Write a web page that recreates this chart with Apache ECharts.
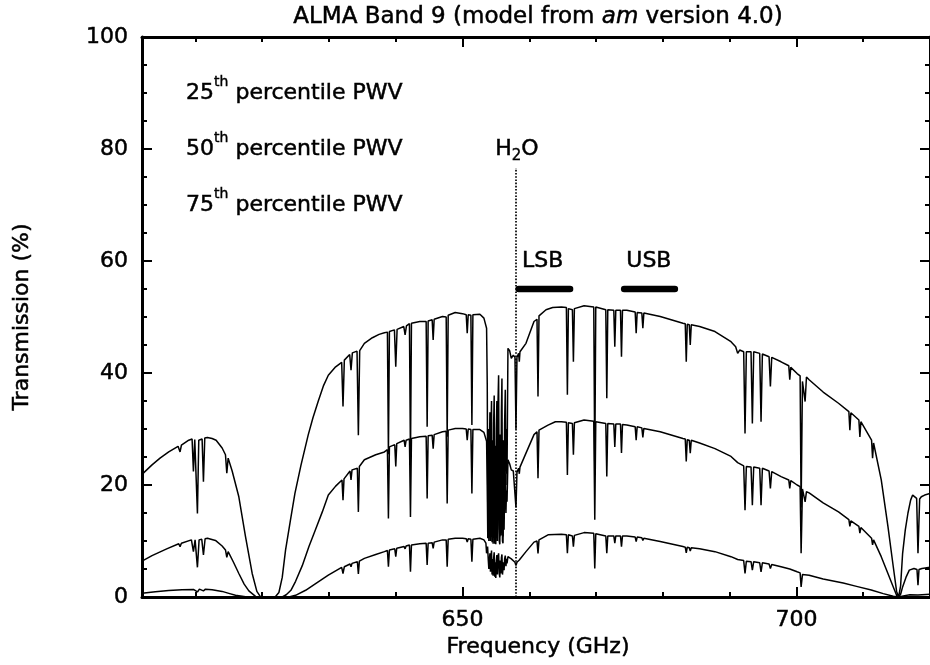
<!DOCTYPE html>
<html><head><meta charset="utf-8">
<script src="https://cdn.jsdelivr.net/npm/echarts@6/dist/echarts.min.js"></script>
<style>html,body{margin:0;padding:0;background:#fff}#c{width:930px;height:665px}</style>
</head><body><div id="c"></div>
<script>
// ---- axis ranges / ticks ----
const xMin = 602, xMax = 720;
const yMin = 0, yMax = 100, yStep = 20;
const xMajorTicks = [650, 700];
const xMinorTicks = [610, 620, 630, 640, 660, 670, 680, 690, 710];

// ---- 25th percentile PWV (frequency GHz, transmission %) ----
const p25 = [
[602.0,21.9],[603.5,23.6],[604.7,24.8],[606.0,25.9],[607.4,26.9],[607.7,25.9],[607.9,27.1],[609.0,28.0],[609.5,28.2],[609.7,22.4],[609.9,28.1],[610.15,28.0],[610.3,14.9],[610.5,28.0],[611.0,28.2],[611.2,20.6],[611.4,28.4],[611.8,28.5],[612.5,28.3],[613.1,28.0],[614.0,26.6],[614.5,25.4],[614.7,22.1],[614.9,24.8],[615.5,22.5],[616.5,17.9],[617.5,10.8],[618.5,4.2],[619.2,1.0],[619.7,0.1],[620.0,0],[621.5,0],[622.0,0.1],[622.5,0.8],[623.0,3.5],[623.5,8.4],[624.2,13.5],[624.9,18.5],[625.8,23.5],[626.9,29.0],[627.6,32.0],[628.4,35.0],[629.2,37.8],[629.9,39.6],[630.9,41.0],[631.9,41.9],[632.1,34.0],[632.3,42.3],[633.1,43.3],[633.3,40.5],[633.5,43.6],[634.2,43.9],[634.4,28.9],[634.6,44.0],[635.3,45.3],[636.5,46.3],[637.5,46.9],[638.3,47.2],[638.75,47.3],[638.9,25.5],[639.05,47.4],[639.8,47.7],[640.0,41.1],[640.2,47.8],[641.2,48.3],[641.4,46.8],[641.6,48.4],[642.05,48.8],[642.2,24.7],[642.35,48.9],[643.6,49.2],[644.55,49.2],[644.7,30.4],[644.85,49.3],[645.45,49.5],[645.6,45.9],[645.75,49.6],[647.0,50.1],[647.55,50.0],[647.7,28.6],[647.85,50.3],[648.9,50.8],[650.0,50.6],[650.55,50.4],[650.7,47.1],[650.85,50.4],[651.25,50.3],[651.4,30.7],[651.55,50.4],[652.6,50.5],[653.2,49.8],[653.6,48.0],
[653.7,38],[653.78,14],[653.86,30],[653.94,11.5],[654.02,26],[654.1,33],[654.18,13],[654.26,30],[654.34,35],[654.42,12],[654.5,28],[654.58,11],[654.66,31],[654.74,36],[654.82,11],[654.9,27],[654.98,10.8],[655.06,30],[655.14,35],[655.22,12],[655.3,34],[655.4,39.6],[655.5,13],[655.58,10.8],[655.66,29],[655.74,14],[655.82,33],[655.9,39.0],[655.98,12],[656.06,10.8],[656.14,28],[656.22,15],[656.3,31],[656.4,37],[656.5,20],[656.58,30],[656.66,22],
[656.8,44.4],[657.05,44.0],[657.3,42.6],[657.6,43.2],[657.85,42.8],[658.0,30.0],[658.15,42.8],[658.4,43.5],[658.5,42.0],[658.6,43.8],[659.5,45.3],[660.7,49.2],[661.15,49.6],[661.3,35.8],[661.45,50.2],[662.5,51.3],[663.5,51.7],[664.8,51.8],[665.55,51.7],[665.7,36.1],[665.85,51.5],[666.45,51.3],[666.6,42.0],[666.75,51.5],[668.2,52.0],[669.65,51.8],[669.8,23.0],[669.95,51.8],[671.45,51.3],[671.6,35.5],[671.75,51.3],[672.65,51.2],[672.8,44.7],[672.95,51.2],[673.65,51.2],[673.8,42.9],[673.95,51.2],[674.6,51.2],[675.85,50.9],[676.0,47.1],[676.15,50.8],[676.85,50.7],[677.0,48.0],[677.15,50.7],[679.6,50.1],[683.0,48.9],[683.35,48.8],[683.5,42.0],[683.65,48.7],[683.95,48.6],[684.1,45.0],[684.25,48.6],[685.5,48.3],[687.8,47.4],[690.2,45.6],[690.9,44.7],[691.2,43.5],[691.5,44.1],[692.1,43.8],[692.3,29.2],[692.5,43.8],[693.2,43.8],[693.4,31.0],[693.6,43.8],[694.5,43.5],[694.7,31.3],[694.9,43.4],[695.9,42.9],[696.1,37.6],[696.3,42.8],[697.7,42.0],[698.85,41.3],[699.0,38.8],[699.15,41.0],[700.1,39.9],[700.55,39.5],[700.7,16.0],[700.9,38.5],[701.1,38.8],[701.3,34.9],[701.5,39.3],[701.9,38.8],[704.0,36.6],[706.3,34.6],[707.85,33.1],[708.0,29.8],[708.15,32.9],[709.35,31.6],[709.5,28.6],[709.65,31.3],[711.25,28.0],[711.4,24.8],[711.55,27.5],[712.7,20.9],[713.7,12.6],[714.5,5.4],[715.0,1.0],[715.3,0],[715.6,2.0],[715.9,7.8],[716.3,12.0],[716.7,15.0],[717.1,17.3],[717.4,18.2],[718.0,17.6],[718.2,7.8],[718.45,17.5],[718.7,17.9],[719.2,18.2],[720.0,18.5]
];

// ---- 50th percentile PWV ----
const p50 = [
[602.0,6.4],[603.5,7.4],[605.7,8.6],[607.5,9.5],[607.7,9.0],[607.9,9.6],[609.4,10.2],[609.7,8.1],[609.95,10.2],[610.3,5.3],[610.55,10.2],[610.95,10.3],[611.2,7.5],[611.45,10.4],[611.8,10.5],[613.0,10.1],[614.0,9.1],[614.5,8.4],[614.7,7.1],[614.9,8.1],[615.7,6.2],[616.5,4.2],[617.3,2.3],[618.0,1.1],[619.0,0.1],[619.5,0],[623.0,0],[623.6,0.4],[624.3,1.2],[625.0,2.8],[626.0,5.6],[627.0,9.0],[627.9,11.8],[629.0,15.2],[629.9,18.2],[631.0,19.8],[631.95,20.9],[632.1,17.3],[632.25,21.1],[633.15,22.5],[633.3,20.9],[633.45,22.7],[634.25,23.0],[634.4,15.2],[634.55,23.3],[635.3,24.5],[637.0,25.4],[638.3,25.9],[638.75,26.3],[638.9,14.0],[639.05,26.8],[639.85,27.2],[640.0,23.3],[640.15,27.4],[641.25,28.0],[641.4,26.8],[641.55,28.0],[642.05,28.2],[642.2,14.3],[642.35,28.3],[643.6,28.6],[644.55,28.7],[644.7,17.6],[644.85,28.8],[645.45,28.9],[645.6,26.5],[645.75,29.0],[647.0,29.5],[647.55,29.6],[647.7,16.7],[647.85,29.8],[648.9,30.1],[650.0,30.1],[650.55,30.0],[650.7,28.0],[650.85,30.0],[651.25,29.9],[651.4,18.5],[651.55,29.9],[652.6,29.9],[653.2,29.4],[653.6,27.8],
[653.7,20],[653.78,10.5],[653.86,18],[653.94,10],[654.02,16],[654.1,21],[654.18,10],[654.26,18],[654.34,22],[654.42,9.8],[654.5,17],[654.58,9.5],[654.66,19],[654.74,23],[654.82,9.5],[654.9,16],[654.98,9.4],[655.06,19],[655.14,22],[655.22,10],[655.3,21],[655.4,24.5],[655.5,10],[655.58,9.4],[655.66,18],[655.74,11],[655.82,20],[655.9,23.5],[655.98,10],[656.06,9.6],[656.14,17],[656.22,12],[656.3,19],[656.4,22],[656.5,15],[656.58,19],[656.66,17],
[656.8,24.5],[657.05,23.8],[657.3,22.7],[657.6,22.5],[657.85,22.2],[658.0,16.0],[658.15,22.3],[658.4,23.0],[658.5,22.0],[658.6,23.2],[659.5,25.7],[660.7,29.0],[661.15,29.5],[661.3,21.2],[661.45,29.8],[662.8,30.7],[663.9,31.3],[664.8,31.3],[665.55,31.2],[665.7,21.8],[665.85,31.1],[666.45,31.0],[666.6,25.4],[666.75,31.1],[668.2,31.6],[669.65,31.4],[669.8,13.8],[669.95,31.3],[671.45,31.0],[671.6,21.5],[671.75,31.0],[672.65,30.9],[672.8,26.8],[672.95,30.9],[673.65,30.9],[673.8,25.7],[673.95,30.8],[674.6,30.7],[675.85,30.4],[676.0,28.0],[676.15,30.4],[676.85,30.2],[677.0,28.5],[677.15,30.1],[679.6,29.5],[683.0,28.3],[683.35,28.2],[683.5,24.2],[683.65,28.1],[683.95,28.0],[684.1,25.7],[684.25,28.0],[685.5,27.5],[687.8,26.5],[690.2,25.1],[691.2,24.0],[692.1,23.4],[692.3,15.5],[692.5,23.3],[693.2,23.2],[693.4,16.4],[693.6,23.2],[694.5,23.0],[694.7,16.4],[694.9,23.0],[695.9,22.5],[696.1,19.4],[696.3,22.4],[697.7,21.5],[698.85,20.9],[699.0,19.4],[699.15,20.8],[700.1,20.0],[700.55,19.7],[700.7,7.8],[700.9,19.3],[701.1,19.0],[701.3,17.0],[701.5,18.8],[701.9,18.6],[704.0,16.8],[706.3,15.2],[707.85,13.8],[708.0,12.6],[708.15,13.6],[709.35,12.6],[709.5,11.4],[709.65,12.4],[711.25,10.5],[711.4,9.3],[711.55,10.2],[712.7,7.2],[713.7,4.2],[714.5,1.8],[715.0,0.3],[715.3,0],[715.6,0.5],[715.9,1.8],[716.4,3.5],[716.9,4.8],[717.6,5.1],[718.05,4.9],[718.2,2.1],[718.35,4.9],[718.8,5.1],[720.0,5.3]
];

// ---- 75th percentile PWV ----
const p75 = [
[602.0,0.65],[604.0,0.95],[606.0,1.15],[608.0,1.3],[609.7,1.35],[610.3,0.9],[610.6,1.4],[611.2,1.1],[611.5,1.4],[612.5,1.3],[614.0,1.0],[615.0,0.65],[616.0,0.3],[617.5,0.05],[618.0,0],[624.0,0],[625.0,0.3],[626.5,1.2],[628.0,2.4],[629.9,3.9],[631.9,5.3],[632.1,4.2],[632.3,5.4],[633.15,5.9],[633.3,5.4],[633.45,6.0],[634.25,6.3],[634.4,4.1],[634.55,6.4],[635.3,6.9],[637.0,7.6],[638.3,8.1],[638.75,8.3],[638.9,5.4],[639.05,8.4],[639.85,8.6],[640.0,7.2],[640.15,8.7],[641.25,9.0],[641.4,8.6],[641.55,9.1],[642.05,9.3],[642.2,4.5],[642.35,9.3],[643.6,9.5],[644.55,9.6],[644.7,5.7],[644.85,9.6],[645.45,9.7],[645.6,8.7],[645.75,9.8],[647.0,10.2],[647.55,10.2],[647.7,5.4],[647.85,10.3],[648.9,10.5],[650.0,10.5],[650.55,10.4],[650.7,9.8],[650.85,10.4],[651.25,10.3],[651.4,6.3],[651.55,10.3],[652.6,10.5],[653.2,10.2],[653.5,9.6],[653.6,7.8],[653.75,9.0],
[653.86,6.5],[653.94,5.0],[654.02,6.5],[654.1,7.8],[654.18,4.5],[654.26,7.0],[654.34,8.3],[654.42,4.0],[654.5,6.8],[654.58,3.8],[654.66,7.0],[654.74,8.0],[654.82,3.6],[654.9,6.2],[654.98,3.4],[655.06,6.5],[655.14,7.5],[655.22,4.0],[655.3,7.2],[655.4,7.8],[655.5,4.2],[655.58,3.5],[655.66,6.5],[655.74,4.2],[655.82,7.0],[655.9,7.6],[655.98,4.0],[656.06,3.8],[656.14,6.2],[656.22,4.8],[656.3,6.8],[656.4,7.4],[656.5,5.5],[656.58,6.8],[656.66,6.0],
[656.8,7.2],[657.3,6.8],[657.85,6.2],[658.0,5.6],[658.15,6.2],[658.5,6.6],[659.5,8.1],[660.7,9.8],[661.15,10.0],[661.3,7.8],[661.45,10.2],[662.8,11.1],[664.8,11.2],[665.55,11.1],[665.7,7.8],[665.85,11.1],[666.45,10.9],[666.6,9.0],[666.75,11.0],[668.2,11.5],[669.65,11.4],[669.8,5.1],[669.95,11.3],[671.45,10.9],[671.6,7.8],[671.75,10.9],[672.65,10.9],[672.8,9.6],[672.95,10.9],[673.65,10.9],[673.8,9.0],[673.95,10.9],[674.6,10.9],[675.85,10.7],[676.0,9.9],[676.15,10.7],[676.85,10.6],[677.0,10.1],[677.15,10.5],[679.6,9.9],[683.0,9.0],[683.35,8.9],[683.5,7.9],[683.65,8.9],[683.95,8.8],[684.1,8.2],[684.25,8.8],[685.5,8.6],[687.8,8.1],[690.2,7.2],[691.2,6.7],[692.1,6.5],[692.3,4.2],[692.5,6.4],[693.2,6.3],[693.4,4.8],[693.6,6.3],[694.5,6.1],[694.7,4.5],[694.9,6.1],[695.9,5.9],[696.1,5.1],[696.3,5.8],[697.7,5.4],[699.0,5.0],[700.1,4.5],[700.55,4.3],[700.7,1.8],[700.9,4.0],[701.9,3.9],[704.0,3.2],[707.0,2.5],[709.0,1.9],[711.2,1.25],[713.0,0.6],[714.5,0.15],[715.3,0],[716.0,0.2],[717.0,0.4],[718.2,0.35],[720.0,0.5]
];

// ---- annotations (data coordinates) ----
const h2oFreq = 658.006;
const h2oLine = [[h2oFreq, 0], [h2oFreq, 76.6]];
const lsbBar = [[658.4, 55], [666.1, 55]];
const usbBar = [[674.2, 55], [681.8, 55]];
const pwvNames = ['25', '50', '75'];
const pwvAnchorT = [90, 80, 70];
const pwvAnchorF = 608.6;
const h2oAnchor = [654.9, 80];
const lsbAnchor = [662.0, 60];
const usbAnchor = [677.9, 60];

const FONT = 'DejaVu Sans';
const chart = echarts.init(document.getElementById('c'), null, {renderer: 'canvas'});

function xAxisCfg(pos, ticks, len, withLine, withLabels) {
  return {
    type: 'value', position: pos, min: xMin, max: xMax,
    axisLine: {show: withLine, onZero: false, lineStyle: {color: '#000', width: 3}},
    axisTick: {show: true, inside: true, length: len, customValues: ticks, lineStyle: {color: '#000', width: 2}},
    axisLabel: withLabels ? {show: true, customValues: ticks, color: '#000', fontSize: 22, fontFamily: FONT, margin: 12, textBorderColor: '#000', textBorderWidth: 0.5} : {show: false},
    splitLine: {show: false}
  };
}
function yAxisCfg(pos, withLabels) {
  return {
    type: 'value', position: pos, min: yMin, max: yMax, interval: yStep,
    axisLine: {show: true, onZero: false, lineStyle: {color: '#000', width: 3}},
    axisTick: {show: true, inside: true, length: 10, lineStyle: {color: '#000', width: 2}},
    minorTick: {show: true, splitNumber: 4, length: 5, lineStyle: {color: '#000', width: 2}},
    axisLabel: withLabels ? {show: true, color: '#000', fontSize: 22, fontFamily: FONT, margin: 14, textBorderColor: '#000', textBorderWidth: 0.5} : {show: false},
    splitLine: {show: false}, minorSplitLine: {show: false}
  };
}
function curve(name, data) {
  return {name, type: 'line', data, xAxisIndex: 0, yAxisIndex: 0, showSymbol: false, symbol: 'none',
    lineStyle: {color: '#000', width: 1.5}, animation: false, z: 3};
}

chart.setOption({
  backgroundColor: '#fff',
  animation: false,
  grid: {left: 142, top: 37, right: -7, bottom: 68, containLabel: false},
  xAxis: [
    xAxisCfg('bottom', xMajorTicks, 10, true, true),
    xAxisCfg('bottom', xMinorTicks, 5, false, false),
    xAxisCfg('top', xMajorTicks, 10, true, false),
    xAxisCfg('top', xMinorTicks, 5, false, false)
  ],
  yAxis: [yAxisCfg('left', true), yAxisCfg('right', false)],
  series: [
    curve('25th percentile PWV', p25),
    curve('50th percentile PWV', p50),
    curve('75th percentile PWV', p75),
    {type: 'line', data: h2oLine, showSymbol: false, symbol: 'none', lineStyle: {color: '#000', width: 1.7, type: [1.6, 1.6]}, z: 2},
    {type: 'line', data: lsbBar, showSymbol: false, symbol: 'none', lineStyle: {color: '#000', width: 6.5, cap: 'round'}},
    {type: 'line', data: usbBar, showSymbol: false, symbol: 'none', lineStyle: {color: '#000', width: 6.5, cap: 'round'}}
  ]
});

const toPx = p => chart.convertToPixel({xAxisIndex: 0, yAxisIndex: 0}, p);
const base = {fontSize: 22, fontFamily: FONT, fill: '#000', stroke: '#000', lineWidth: 0.5};
const graphics = [];
graphics.push({type: 'text', x: 538, y: 17, style: {
  text: '{n|ALMA Band 9 (model from }{i|am}{n| version 4.0)}',
  rich: {n: Object.assign({}, base, {fontSize: 23, lineHeight: 24}), i: Object.assign({}, base, {fontSize: 23, lineHeight: 24, fontStyle: 'italic'})},
  align: 'center', verticalAlign: 'middle'}});
graphics.push({type: 'text', x: 538, y: 647, style: Object.assign({text: 'Frequency (GHz)', align: 'center', verticalAlign: 'middle'}, base)});
graphics.push({type: 'text', x: 22, y: 317, rotation: Math.PI / 2, style: Object.assign({text: 'Transmission (%)', align: 'center', verticalAlign: 'middle'}, base)});
pwvNames.forEach((n, i) => {
  const p = toPx([pwvAnchorF, pwvAnchorT[i]]);
  graphics.push({type: 'text', x: p[0], y: p[1], style: {
    text: '{b|' + n + '}{s|th}{b| percentile PWV}',
    rich: {b: Object.assign({lineHeight: 36}, base), s: {fontSize: 14, fontFamily: FONT, fill: '#000', stroke: '#000', lineWidth: 0.4, lineHeight: 14, verticalAlign: 'top'}},
    align: 'left', verticalAlign: 'middle'}});
});
{
  const p = toPx(h2oAnchor);
  graphics.push({type: 'text', x: p[0], y: p[1], style: {
    text: '{b|H}{s|2}{b|O}',
    rich: {b: Object.assign({lineHeight: 30}, base), s: {fontSize: 15, fontFamily: FONT, fill: '#000', stroke: '#000', lineWidth: 0.4, lineHeight: 14, verticalAlign: 'bottom'}},
    align: 'left', verticalAlign: 'middle'}});
}
[[lsbAnchor, 'LSB'], [usbAnchor, 'USB']].forEach(([a, t]) => {
  const p = toPx(a);
  graphics.push({type: 'text', x: p[0], y: p[1], style: Object.assign({text: t, align: 'center', verticalAlign: 'middle'}, base)});
});
chart.setOption({graphic: graphics});
</script></body></html>
